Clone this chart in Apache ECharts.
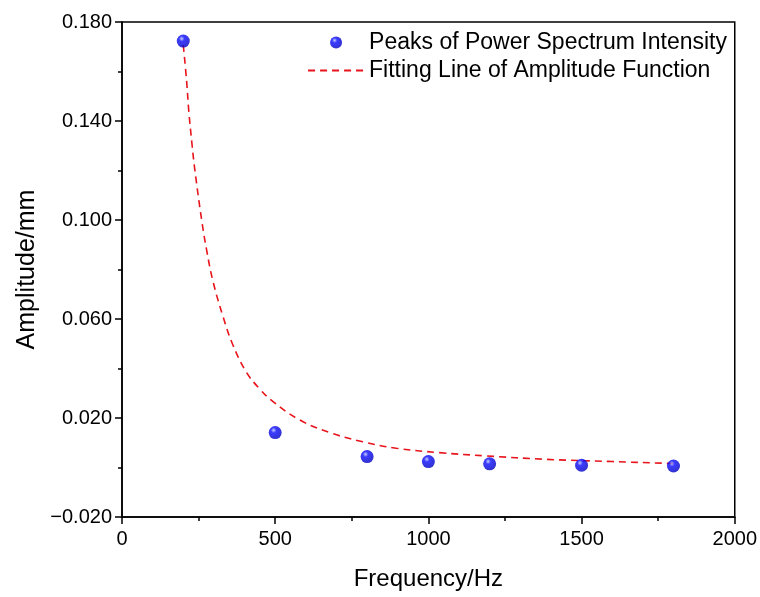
<!DOCTYPE html>
<html>
<head>
<meta charset="utf-8">
<script src="https://cdn.jsdelivr.net/npm/echarts@6/dist/echarts.min.js"></script>
<style>
  html, body { margin: 0; padding: 0; background: #fff; }
  #main { width: 760px; height: 597px; }
</style>
</head>
<body>
<div id="main"></div>
<script>
// measured peaks
var peakFreq = [200, 500, 800, 1000, 1200, 1500, 1800];
var peakAmp = [0.1723, 0.0141, 0.0044, 0.0024, 0.0015, 0.0009, 0.0006];

// fitted curve
var fitFreq = [200, 211, 218, 229, 238, 260, 276, 297, 330, 362, 406, 449, 493, 580, 678, 786, 895, 1036, 1188, 1383, 1600, 1774, 1800];
var fitAmp = [0.1707, 0.1560, 0.1440, 0.1300, 0.1200, 0.1000, 0.0880, 0.0752, 0.0609, 0.0495, 0.0385, 0.0318, 0.0266, 0.0192, 0.0141, 0.0104, 0.0078, 0.0060, 0.0047, 0.0033, 0.0024, 0.0017, 0.0016];

var xTicks = [0, 500, 1000, 1500, 2000];
var yTicks = [-0.02, 0.02, 0.06, 0.10, 0.14, 0.18];

function pairs(xs, ys) {
  var out = [];
  for (var i = 0; i < xs.length; i++) out.push([xs[i], ys[i]]);
  return out;
}

var dom = document.getElementById('main');
var myChart = echarts.init(dom, null, { renderer: 'canvas' });

var font = 'Liberation Sans, Arial, sans-serif';

var ball = new echarts.graphic.RadialGradient(0.38, 0.32, 0.7, [
  { offset: 0, color: '#b8c4ff' },
  { offset: 0.3, color: '#0a0aff' },
  { offset: 1, color: '#0000c0' }
]);

var option = {
  animation: false,
  backgroundColor: '#fff',
  grid: {
    left: 122, right: 24, top: 22, bottom: 80,
    show: true, borderColor: '#000', borderWidth: 1.5
  },
  legend: {
    right: 28, top: 26,
    orient: 'vertical',
    align: 'left',
    itemWidth: 56, itemHeight: 12, itemGap: 5,
    textStyle: { fontFamily: font, fontSize: 23, color: '#000' },
    data: [
      { name: 'Peaks of Power Spectrum Intensity', icon: 'circle' },
      { name: 'Fitting Line of Amplitude Function', itemStyle: { opacity: 0 } }
    ]
  },
  xAxis: {
    type: 'value',
    min: xTicks[0], max: xTicks[xTicks.length - 1], interval: 500,
    name: 'Frequency/Hz', nameLocation: 'middle', nameGap: 50,
    nameTextStyle: { fontFamily: font, fontSize: 24, color: '#000' },
    axisLine: { show: true, onZero: false, lineStyle: { color: '#000', width: 1.5 } },
    axisTick: { show: true, length: 7, lineStyle: { color: '#000', width: 1.5 } },
    minorTick: { show: true, splitNumber: 2, length: 4, lineStyle: { color: '#000', width: 1.5 } },
    splitLine: { show: false },
    axisLabel: {
      fontFamily: font, fontSize: 20, color: '#000', margin: 12,
      formatter: function (v) { return String(v); }
    }
  },
  yAxis: {
    type: 'value',
    min: yTicks[0], max: yTicks[yTicks.length - 1], interval: 0.04,
    name: 'Amplitude/mm', nameLocation: 'middle', nameGap: 78,
    nameTextStyle: { fontFamily: font, fontSize: 25, color: '#000' },
    axisLine: { show: true, onZero: false, lineStyle: { color: '#000', width: 1.5 } },
    axisTick: { show: true, length: 7, lineStyle: { color: '#000', width: 1.5 } },
    minorTick: { show: true, splitNumber: 2, length: 4, lineStyle: { color: '#000', width: 1.5 } },
    splitLine: { show: false },
    axisLabel: {
      fontFamily: font, fontSize: 20, color: '#000', margin: 10,
      formatter: function (v) { return v.toFixed(3).replace('-', '\u2212'); }
    }
  },
  series: [
    {
      name: 'Fitting Line of Amplitude Function',
      type: 'line',
      data: pairs(fitFreq, fitAmp),
      smooth: 0.4,
      showSymbol: false,
      symbol: 'none',
      lineStyle: { color: '#e8141c', width: 1.6, type: [7, 5] },
      itemStyle: { color: '#e8141c' },
      z: 2
    },
    {
      name: 'Peaks of Power Spectrum Intensity',
      type: 'scatter',
      data: pairs(peakFreq, peakAmp),
      symbolSize: 13,
      itemStyle: { color: ball },
      z: 3
    }
  ]
};

myChart.setOption(option);
window.addEventListener('resize', myChart.resize);
</script>
</body>
</html>
